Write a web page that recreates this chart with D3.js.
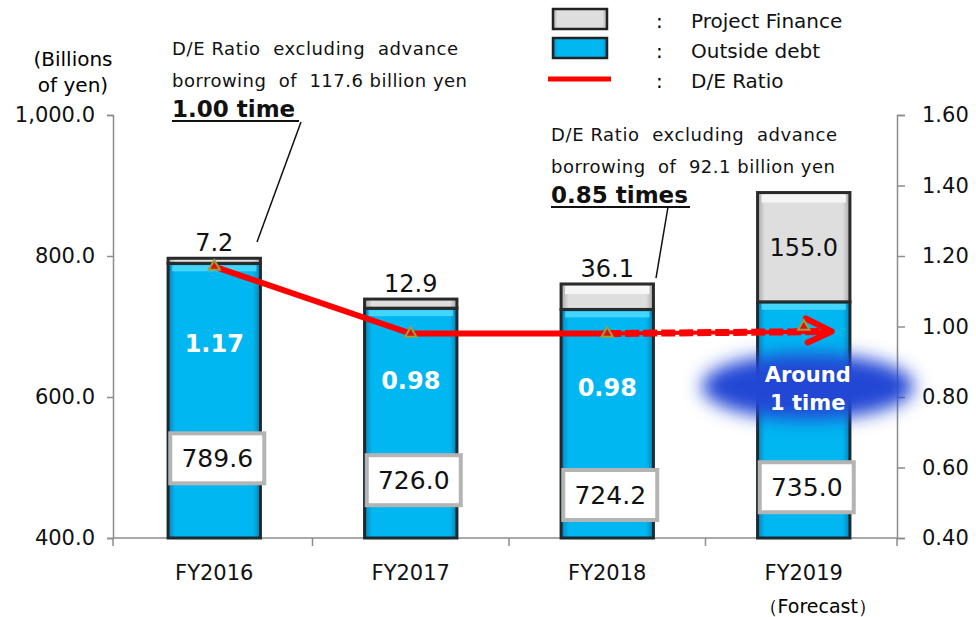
<!doctype html>
<html>
  <head>
    <style>
      body { margin: 0; background: #fff; }
      svg text { font-family: 'DejaVu Sans', Verdana, sans-serif; }
    </style>
  </head>
  <body>
    <svg id='chart0'></svg>

    <script src='https://d3js.org/d3.v7.min.js'></script>
    <script>
      // Values.
      const years = ['FY2016', 'FY2017', 'FY2018', 'FY2019'];
      const outside_debt = [789.6, 726.0, 724.2, 735.0];
      const project_finance = [7.2, 12.9, 36.1, 155.0];
      const de_ratio = [1.17, 0.98, 0.98, 1.00];
      const ratio_labels = ['1.17', '0.98', '0.98', ''];
      const left_ticks = [400, 600, 800, 1000];
      const right_ticks = [0.4, 0.6, 0.8, 1.0, 1.2, 1.4, 1.6];

      const width = 976;
      const height = 617;
      const svg = d3.select('svg#chart0')
                    .attr('width', width)
                    .attr('height', height);

      const ax_left = 113, ax_right = 897;
      const x = d3.scaleBand()
                  .domain(years)
                  .range([ax_left + 3, ax_right + 5])
                  .paddingInner(0.53)
                  .paddingOuter(0.265);
      const y = d3.scaleLinear().domain([400, 1000]).range([538, 115]);
      const y_r = d3.scaleLinear().domain([0.4, 1.6]).range([538, 115]);

      const defs = svg.append('defs');
      function side_grad(id, edge, mid) {
          const g = defs.append('linearGradient').attr('id', id)
                        .attr('x1', 0).attr('x2', 1).attr('y1', 0).attr('y2', 0);
          g.append('stop').attr('offset', '0%').attr('stop-color', edge);
          g.append('stop').attr('offset', '8%').attr('stop-color', mid);
          g.append('stop').attr('offset', '92%').attr('stop-color', mid);
          g.append('stop').attr('offset', '100%').attr('stop-color', edge);
      }
      side_grad('blue', '#0a82b4', '#00b7f1');
      side_grad('grey', '#a8a8a8', '#dedede');
      defs.append('filter').attr('id', 'blur')
          .attr('x', '-30%').attr('y', '-50%').attr('width', '160%').attr('height', '200%')
          .append('feGaussianBlur').attr('stdDeviation', 9);

      // axes
      const axis_col = '#8c8c8c';
      const gl = svg.append('g')
         .attr('transform', `translate(${ax_left},0)`)
         .call(d3.axisLeft(y).tickValues(left_ticks).tickFormat(d3.format(',.1f'))
                 .tickSize(6).tickPadding(12));
      const gr = svg.append('g')
         .attr('transform', `translate(${ax_right},0)`)
         .call(d3.axisRight(y_r).tickValues(right_ticks).tickFormat(d3.format('.2f'))
                 .tickSize(8).tickPadding(17));
      const gx = svg.append('g')
         .attr('transform', `translate(0,${y(400)})`)
         .call(d3.axisBottom(x).tickSize(0).tickPadding(27));
      gx.select('.domain').attr('d', `M${ax_left},0H${ax_right}`);
      [gl, gr, gx].forEach(g => {
          g.select('.domain').attr('stroke', axis_col).attr('stroke-width', 1.5);
          g.selectAll('.tick line').attr('stroke', axis_col).attr('stroke-width', 1.5);
          g.selectAll('.tick text').attr('font-size', 21).attr('fill', '#111');
      });
      const bounds = years.map(d => x(d) - x.step() * x.paddingInner() / 2);
      bounds[0] = ax_left;
      bounds.push(ax_right);
      gx.selectAll('line.bound').data(bounds).join('line')
        .attr('x1', d => d).attr('x2', d => d).attr('y1', 0).attr('y2', 8)
        .attr('stroke', axis_col).attr('stroke-width', 1.5);
      svg.append('text').attr('x', x('FY2019') + x.bandwidth() / 2 + 14)
         .attr('y', 613).attr('text-anchor', 'middle').attr('font-size', 19)
         .text('（Forecast）');

      svg.append('text').attr('text-anchor', 'middle').attr('font-size', 20)
         .selectAll('tspan').data(['(Billions', 'of yen)']).join('tspan')
         .attr('x', 73).attr('y', (d, i) => 66 + i * 26).text(d => d);

      // bars
      const bars = svg.append('g');
      years.forEach((yr, i) => {
          const bx = x(yr), bw = x.bandwidth();
          const top_b = y(outside_debt[i]);
          const top_p = y(outside_debt[i] + project_finance[i]);
          bars.append('rect').attr('x', bx).attr('y', top_b)
              .attr('width', bw).attr('height', y(400) - top_b)
              .attr('fill', 'url(#blue)').attr('stroke', '#1c2a30').attr('stroke-width', 3);
          bars.append('rect').attr('x', bx + 4).attr('y', top_b + 2)
              .attr('width', bw - 8).attr('height', 6).attr('fill', '#55dcff').attr('opacity', 0.8);
          bars.append('rect').attr('x', bx).attr('y', top_p)
              .attr('width', bw).attr('height', top_b - top_p)
              .attr('fill', 'url(#grey)').attr('stroke', '#2a2a2a').attr('stroke-width', 3);
          if (top_b - top_p > 20) {
              bars.append('rect').attr('x', bx + 4).attr('y', top_p + 2)
                  .attr('width', bw - 8).attr('height', 8).attr('fill', '#f6f6f6');
          }
      });

      // project finance labels
      svg.append('g').selectAll('text').data(years).join('text')
         .attr('x', d => x(d) + x.bandwidth() / 2)
         .attr('y', (d, i) => {
             const top = y(outside_debt[i] + project_finance[i]);
             return project_finance[i] > 100 ? (top + y(outside_debt[i])) / 2 + 9 : top - 7;
         })
         .attr('text-anchor', 'middle').attr('font-size', 24).attr('fill', '#111')
         .text((d, i) => project_finance[i].toFixed(1));

      // outside debt label boxes
      const box_at = [513, 482, 461, 472];
      const boxes = svg.append('g').selectAll('g').data(years).join('g')
         .attr('transform', (d, i) => `translate(${x(d) + x.bandwidth() / 2 + 3},${y(box_at[i])})`);
      boxes.append('rect').attr('x', -47).attr('y', -25).attr('width', 94).attr('height', 50)
           .attr('fill', '#fff').attr('stroke', '#b4b4b4').attr('stroke-width', 4);
      boxes.append('text').attr('text-anchor', 'middle').attr('dy', 9)
           .attr('font-size', 25).attr('fill', '#111')
           .text((d, i) => outside_debt[i].toFixed(1));

      // ellipse for forecast
      const ex = x('FY2019') + x.bandwidth() / 2 + 4;
      svg.append('ellipse').attr('cx', ex).attr('cy', y_r(0.83))
         .attr('rx', 106).attr('ry', 33).attr('fill', '#2446d4')
         .attr('filter', 'url(#blur)');

      // ratio labels
      const ratio_at = [0.953, 0.848, 0.828];
      svg.append('g').selectAll('text').data(ratio_labels.slice(0, 3)).join('text')
         .attr('x', (d, i) => x(years[i]) + x.bandwidth() / 2)
         .attr('y', (d, i) => y_r(ratio_at[i]) + 9)
         .attr('text-anchor', 'middle').attr('font-size', 24).attr('font-weight', 'bold')
         .attr('fill', '#fff').text(d => d);
      svg.append('text').attr('text-anchor', 'middle').attr('font-size', 21)
         .attr('font-weight', 'bold').attr('fill', '#fff')
         .selectAll('tspan').data(['Around', '1 time']).join('tspan')
         .attr('x', ex).attr('y', (d, i) => 382 + i * 28).text(d => d);

      // D/E ratio line
      const pts = years.map((d, i) => [x(d) + x.bandwidth() / 2, y_r(de_ratio[i])]);
      const line = d3.line();
      svg.append('path').attr('d', line(pts.slice(0, 3)))
         .attr('fill', 'none').attr('stroke', '#ff0000').attr('stroke-width', 6);
      const tip = [pts[3][0] + 28, pts[3][1] + 5];
      svg.append('path').attr('d', line([pts[2], tip]))
         .attr('fill', 'none').attr('stroke', '#ff0000').attr('stroke-width', 4);
      svg.append('path').attr('d', line([pts[2], tip]))
         .attr('fill', 'none').attr('stroke', '#ff0000').attr('stroke-width', 7)
         .attr('stroke-dasharray', '14 4');
      svg.append('path').attr('d', line([[tip[0] - 26, tip[1] - 13], tip, [tip[0] - 24, tip[1] + 11]]))
         .attr('fill', 'none').attr('stroke', '#ff0000').attr('stroke-width', 6)
         .attr('stroke-linecap', 'round').attr('stroke-linejoin', 'round');
      svg.append('g').selectAll('path').data(pts).join('path')
         .attr('transform', d => `translate(${d[0]},${d[1]})`)
         .attr('d', d3.symbol(d3.symbolTriangle, 55))
         .attr('fill', '#e01010').attr('stroke', '#9aa040').attr('stroke-width', 2);

      // annotations
      function note(x0, y0, w, lines, bold, bold_w, leader) {
          const g = svg.append('g');
          lines.forEach((t, i) => {
              g.append('text').attr('x', x0).attr('y', y0 + i * 32)
               .attr('font-size', 18).attr('fill', '#111')
               .attr('textLength', w[i]).attr('lengthAdjust', 'spacing')
               .attr('xml:space', 'preserve').text(t);
          });
          const by = y0 + 62;
          g.append('text').attr('x', x0).attr('y', by).attr('font-size', 23)
           .attr('font-weight', 'bold').attr('fill', '#111').text(bold);
          g.append('line').attr('x1', x0).attr('x2', x0 + bold_w)
           .attr('y1', by + 4).attr('y2', by + 4).attr('stroke', '#111').attr('stroke-width', 2);
          g.append('line').attr('x1', leader[0]).attr('y1', leader[1])
           .attr('x2', leader[2]).attr('y2', leader[3])
           .attr('stroke', '#111').attr('stroke-width', 1.5);
      }
      note(172, 55, [286, 295], ['D/E Ratio  excluding  advance', 'borrowing  of  117.6 billion yen'],
           '1.00 time', 127, [301, 122, 257, 242]);
      note(551, 141, [286, 284], ['D/E Ratio  excluding  advance', 'borrowing  of  92.1 billion yen'],
           '0.85 times', 139, [668, 207, 656, 278]);

      // legend
      const leg = svg.append('g');
      leg.append('rect').attr('x', 553).attr('y', 9).attr('width', 54).attr('height', 20)
         .attr('fill', 'url(#grey)').attr('stroke', '#222').attr('stroke-width', 2.5);
      leg.append('rect').attr('x', 553).attr('y', 38).attr('width', 54).attr('height', 20)
         .attr('fill', 'url(#blue)').attr('stroke', '#222').attr('stroke-width', 2.5);
      leg.append('line').attr('x1', 548).attr('x2', 611).attr('y1', 79).attr('y2', 79)
         .attr('stroke', '#ff0000').attr('stroke-width', 5);
      ['Project Finance', 'Outside debt', 'D/E Ratio'].forEach((t, i) => {
          leg.append('text').attr('x', 656).attr('y', 28 + i * 30).attr('font-size', 20).text(':');
          leg.append('text').attr('x', 691).attr('y', 28 + i * 30).attr('font-size', 20)
             .attr('fill', '#111').text(t);
      });
    </script>
  </body>
</html>
